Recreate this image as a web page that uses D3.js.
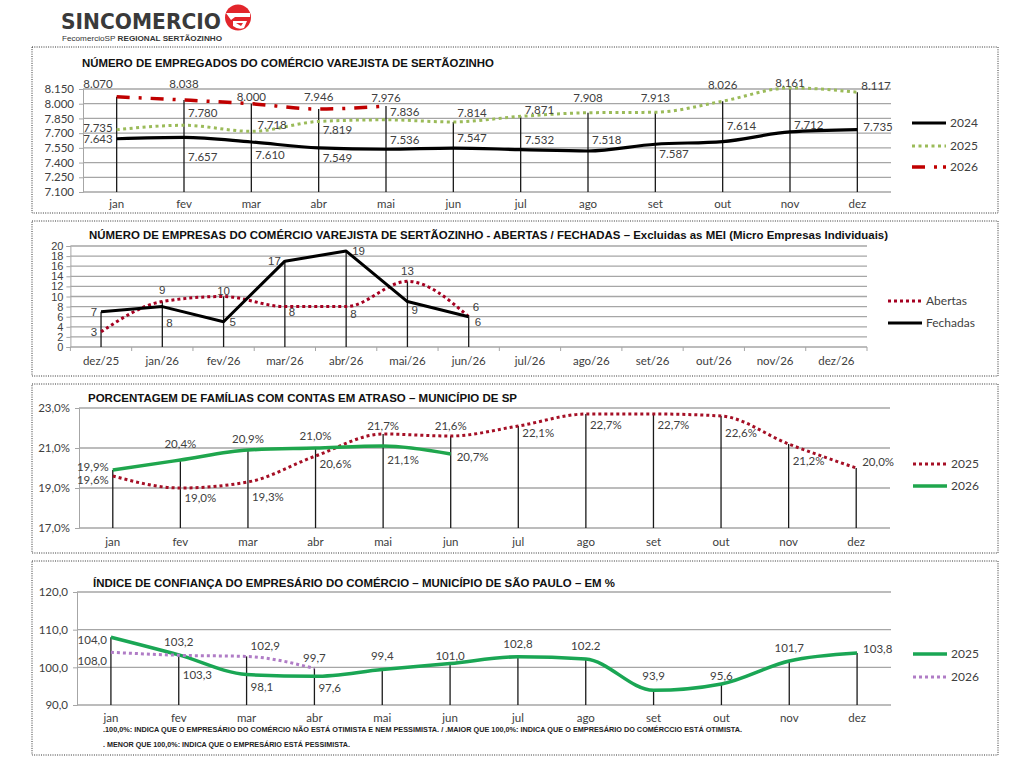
<!DOCTYPE html>
<html><head><meta charset="utf-8">
<script src="https://cdn.jsdelivr.net/npm/d3@7"></script>
<style>body{margin:0;background:#fff}svg{display:block}</style>
</head><body>
<svg id="c" width="1024" height="768"></svg>
<script>
// ---------------- DATA ----------------
const months = ["jan","fev","mar","abr","mai","jun","jul","ago","set","out","nov","dez"];

const emp2024 = [7643,7657,7610,7549,7536,7547,7532,7518,7587,7614,7712,7735];
const emp2025 = [7735,7780,7718,7819,7836,7814,7871,7908,7913,8026,8161,8117];
const emp2026 = [8070,8038,8000,7946,7976];
const empTicks = [7100,7250,7400,7550,7700,7850,8000,8150];

const empresasCats = ["dez/25","jan/26","fev/26","mar/26","abr/26","mai/26","jun/26","jul/26","ago/26","set/26","out/26","nov/26","dez/26"];
const abertas = [3,9,10,8,8,13,6];
const fechadas = [7,8,5,17,19,9,6];
const empresasTicks = [0,2,4,6,8,10,12,14,16,18,20];

const contas2025 = [19.6,19.0,19.3,20.6,21.7,21.6,22.1,22.7,22.7,22.6,21.2,20.0];
const contas2026 = [19.9,20.4,20.9,21.0,21.1,20.7];
const contasTicks = [17,19,21,23];

const icec2025 = [108.0,103.3,98.1,97.6,99.4,101.0,102.8,102.2,93.9,95.6,101.7,103.8];
const icec2025Text = ["108,0","103,3","98,1","97,6","99,4","101,0","102,8","102.2","93,9","95,6","101,7","103,8"];
const icec2026 = [104.0,103.2,102.9,99.7];
const icecTicks = [90,100,110,120];

// ---------------- HELPERS ----------------
const loc = d3.formatLocale({decimal:",", thousands:".", grouping:[3], currency:["R$",""]});
const fmtThousands = loc.format(",");
const fmtPct = v => loc.format(".1f")(v) + "%";
const fmt1 = loc.format(".1f");
const fmtInt = loc.format("d");

const svg = d3.select("#c");
const CAL = "Lato, 'Open Sans', sans-serif";
const ARI = "'Liberation Sans', Arial, sans-serif";
const TXT = "#404040";

const OFF = {T:[0,-8,"middle"], B:[0,16,"middle"], TR:[4,-6,"start"], BR:[4,16,"start"],
             R:[6,4,"start"], L:[-4,4,"end"], TL:[-4,-6,"end"], BL:[-4,16,"end"]};
function off(code){
  const m = /^([A-Z]+)([+-]\d+)?$/.exec(code);
  const o = OFF[m[1]];
  return [o[0], o[1] + (m[2] ? +m[2] : 0), o[2]];
}

function panel(cfg){
  const g = svg.append("g");
  const [bx0,by0,bx1,by1] = cfg.box;
  g.append("rect").attr("x",bx0).attr("y",by0).attr("width",bx1-bx0).attr("height",by1-by0)
    .attr("fill","none").attr("stroke","#333").attr("stroke-width",1).attr("stroke-dasharray","1,1.3");

  g.append("text").attr("x",cfg.title.x).attr("y",cfg.title.y).text(cfg.title.text)
    .attr("font-family",ARI).attr("font-weight","bold").attr("font-size",11.5).attr("fill","#111")
    .attr("textLength",cfg.title.w).attr("lengthAdjust","spacingAndGlyphs");

  const x = d3.scaleBand().domain(cfg.cats).range([cfg.x0,cfg.x1]);
  const cx = i => x(cfg.cats[i]) + x.bandwidth()/2;
  const y = d3.scaleLinear().domain(cfg.ydom).range([cfg.yb, cfg.yt]);

  // gridlines
  g.append("g").selectAll("line").data(cfg.ticks).join("line")
    .attr("x1",cfg.x0).attr("x2",cfg.x1).attr("y1",d=>y(d)).attr("y2",d=>y(d))
    .attr("stroke","#a6a6a6").attr("stroke-width",1.3);
  // y axis
  const ya = d3.axisLeft(y).tickValues(cfg.ticks).tickSize(4).tickFormat(cfg.tickFmt);
  const yag = g.append("g").attr("transform",`translate(${cfg.x0},0)`).call(ya);
  yag.select(".domain").attr("stroke","#a6a6a6");
  yag.selectAll(".tick line").attr("stroke","#a6a6a6");
  yag.selectAll(".tick text").attr("font-family",cfg.tickFont||CAL).attr("font-size",cfg.tickSize||11.5)
    .attr("fill",TXT).attr("x",-(cfg.tickGap||9));
  // x axis labels
  const xa = d3.axisBottom(x).tickSize(0).tickPadding(0);
  const xag = g.append("g").attr("transform",`translate(0,${cfg.yb})`).call(xa);
  xag.select(".domain").remove();
  xag.selectAll(".tick text").attr("font-family",CAL).attr("font-size",11.5).attr("fill",TXT)
    .attr("dy",null).attr("y",cfg.xlabY - cfg.yb);
  if (cfg.xTicks){
    g.append("g").selectAll("line").data(d3.range(cfg.cats.length+1)).join("line")
      .attr("x1",i=>cfg.x0+i*x.bandwidth()).attr("x2",i=>cfg.x0+i*x.bandwidth())
      .attr("y1",cfg.yb).attr("y2",cfg.yb+4).attr("stroke","#a6a6a6");
  }

  // drop lines
  const drops = cfg.cats.map((c,i)=>{
    const vals = cfg.series.map(s=>s.values[i]).filter(v=>v!=null);
    return vals.length ? {i, v:d3.max(vals)} : null;
  }).filter(d=>d);
  g.append("g").selectAll("line").data(drops).join("line")
    .attr("x1",d=>cx(d.i)).attr("x2",d=>cx(d.i)).attr("y1",d=>y(d.v)).attr("y2",cfg.yb)
    .attr("stroke","#1a1a1a").attr("stroke-width",1.3);

  // series lines
  cfg.series.forEach(s=>{
    const line = d3.line().x((d,i)=>cx(i)).y(d=>y(d)).curve(s.curve||d3.curveMonotoneX);
    g.append("path").datum(s.values).attr("d",line).attr("fill","none")
      .attr("stroke",s.color).attr("stroke-width",s.width)
      .attr("stroke-dasharray",s.dash||null).attr("stroke-linecap",s.cap||"butt")
      .attr("stroke-linejoin","round");
  });
  // labels
  cfg.series.forEach(s=>{
    g.append("g").selectAll("text").data(s.values).join("text")
      .each(function(d,i){
        const [dx,dy,anc] = off(s.pos[i]);
        d3.select(this).attr("x",cx(i)+dx).attr("y",y(d)+dy).attr("text-anchor",anc)
          .text(s.text ? s.text[i] : s.fmt(d));
      })
      .attr("font-family",cfg.labelFont||CAL).attr("font-size",11.5).attr("fill",TXT);
  });
  // legend
  cfg.series.forEach((s,k)=>{
    const ly = cfg.legend.ys[k];
    g.append("line").attr("x1",cfg.legend.x).attr("x2",cfg.legend.x+34).attr("y1",ly).attr("y2",ly)
      .attr("stroke",s.color).attr("stroke-width",s.width)
      .attr("stroke-dasharray",s.legDash||s.dash||null);
    g.append("text").attr("x",cfg.legend.x+38).attr("y",ly+4).text(s.name)
      .attr("font-family",CAL).attr("font-size",12).attr("fill",TXT);
  });
}

// ---------------- HEADER ----------------
const hdr = svg.append("g");
hdr.append("text").attr("x",61).attr("y",29).text("SINCOMERCIO")
  .attr("font-family","'DejaVu Sans', sans-serif").attr("font-weight","bold").attr("font-size",21)
  .attr("fill","#3a3a3a").attr("textLength",160).attr("lengthAdjust","spacingAndGlyphs");
hdr.append("circle").attr("cx",238).attr("cy",17.5).attr("r",13).attr("fill","#e2252b");
hdr.append("path").attr("d","M226,13 L250,13 L250,17 L235,17 L231,20 Z").attr("fill","#fff");
hdr.append("path").attr("d","M233,21 L247,21 L244,28 Q238,30 233,26 Z").attr("fill","#fff");
hdr.append("path").attr("d","M236,23 L243,23 L241,26 Z").attr("fill","#e2252b");
const sub = hdr.append("text").attr("x",62).attr("y",41).attr("font-family",ARI).attr("font-size",7.5).attr("fill","#333")
  .attr("textLength",160).attr("lengthAdjust","spacingAndGlyphs");
sub.append("tspan").text("FecomercioSP ");
sub.append("tspan").attr("font-weight","bold").text("REGIONAL SERTÃOZINHO");

// ---------------- PANEL 1 ----------------
panel({
  box:[32,47,998,213],
  title:{x:82,y:67,w:412,text:"NÚMERO DE EMPREGADOS DO COMÉRCIO VAREJISTA DE SERTÃOZINHO"},
  cats:months, x0:83, x1:891, ydom:[7100,8150], yb:192, yt:89, ticks:empTicks,
  tickFmt:fmtThousands, xlabY:208,
  series:[
    {name:"2024", values:emp2024, color:"#000", width:3.2, fmt:fmtThousands,
     pos:["L","BR+8","BR+1","BR-2","TR+1","TR","TR","TR-1","BR-2","TR-6","TR+3","R-3"]},
    {name:"2025", values:emp2025, color:"#9bbb59", width:3, dash:"3,3.5", fmt:fmtThousands,
     pos:["L-2","TR-2","R-6","BR-3","TR+2","TR+1","TR+4","T-3","T-2","T-4","T+7","TR+4"]},
    {name:"2026", values:emp2026, color:"#c00000", width:3.5, dash:"13,9,3,9", legDash:"13,9,3,6", fmt:fmtThousands,
     pos:["TL-3","T-4","T+5","T","T+4"]}
  ],
  legend:{x:912, ys:[123,146,167]}
});

// ---------------- PANEL 2 ----------------
panel({
  box:[32,221,998,376],
  title:{x:89,y:239,w:799,text:"NÚMERO DE EMPRESAS DO COMÉRCIO VAREJISTA DE SERTÃOZINHO - ABERTAS / FECHADAS – Excluidas as MEI (Micro Empresas Individuais)"},
  cats:empresasCats, x0:70.4, x1:867, ydom:[0,20], yb:347, yt:246, ticks:empresasTicks,
  tickFmt:fmtInt, tickFont:ARI, tickSize:11, tickGap:7, xlabY:365, xTicks:true, labelFont:ARI,
  series:[
    {name:"Abertas", values:abertas, color:"#a50021", width:3, dash:"3,3", fmt:fmtInt,
     pos:["L","T","T+6","BR-7","BR-5","T+2","TR"]},
    {name:"Fechadas", values:fechadas, color:"#000", width:3, curve:d3.curveLinear, fmt:fmtInt,
     pos:["L","BR+4","R","L","R","BR-4","R+5"]}
  ],
  legend:{x:888, ys:[301,323]}
});

// ---------------- PANEL 3 ----------------
panel({
  box:[32,384,998,553],
  title:{x:88,y:402,w:429,text:"PORCENTAGEM DE FAMÍLIAS COM CONTAS EM ATRASO – MUNICÍPIO DE SP"},
  cats:months, x0:79, x1:890, ydom:[17,23], yb:528, yt:408, ticks:contasTicks,
  tickFmt:fmtPct, xlabY:546,
  series:[
    {name:"2025", values:contas2025, color:"#a50f25", width:3, dash:"3,3", fmt:fmtPct,
     pos:["L+4","BR-2","BR+3","BR-4","T+4","T+2","BR-5","BR-1","BR-1","BR+5","BR+5","R-6"]},
    {name:"2026", values:contas2026, color:"#1fa64d", width:3.5, fmt:fmtPct,
     pos:["L-3","T-4","T+1","T","BR+2","R+3"]}
  ],
  legend:{x:913, ys:[464,486]}
});

// ---------------- PANEL 4 ----------------
panel({
  box:[32,561,998,755],
  title:{x:93,y:587,w:522,text:"ÍNDICE DE CONFIANÇA DO EMPRESÁRIO DO COMÉRCIO – MUNICÍPIO DE SÃO PAULO – EM %"},
  cats:months, x0:77, x1:891, ydom:[90,120], yb:705, yt:592, ticks:icecTicks,
  tickFmt:fmt1, xlabY:722,
  series:[
    {name:"2025", values:icec2025, text:icec2025Text, color:"#1aa654", width:3.5, fmt:fmt1,
     pos:["BL+12","BR+8","BR+1","BR","T-2","T+4","T-1","T-1","T-2","T+4","T-1","R-4"]},
    {name:"2026", values:icec2026, color:"#b07cc6", width:3, dash:"3,3", fmt:fmt1,
     pos:["TL-2","T-1","TR","T+2"]}
  ],
  legend:{x:913, ys:[654,677]}
});

// footnotes
const NARROW = "'Liberation Sans Narrow', 'Liberation Sans', sans-serif";
svg.append("text").attr("x",103).attr("y",732).attr("font-family",NARROW).attr("font-weight","bold")
  .attr("font-size",8).attr("fill","#222").attr("textLength",639).attr("lengthAdjust","spacingAndGlyphs")
  .text(".100,0%:  INDICA QUE O EMPRESÁRIO DO COMÉRCIO NÃO ESTÁ OTIMISTA E NEM PESSIMISTA.  / .MAIOR QUE 100,0%: INDICA QUE O EMPRESÁRIO DO COMÉRCCIO  ESTÁ OTIMISTA.");
svg.append("text").attr("x",103).attr("y",747).attr("font-family",NARROW).attr("font-weight","bold")
  .attr("font-size",8).attr("fill","#222").attr("textLength",247).attr("lengthAdjust","spacingAndGlyphs")
  .text(". MENOR QUE 100,0%: INDICA QUE O EMPRESÁRIO ESTÁ PESSIMISTA.");
</script>
</body></html>
